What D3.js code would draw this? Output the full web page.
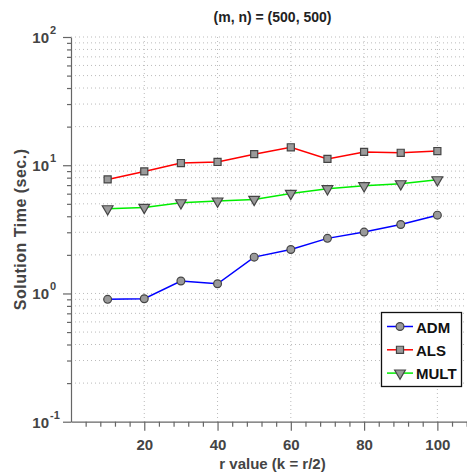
<!DOCTYPE html>
<html>
<head>
<meta charset="utf-8">
<script src="https://cdn.jsdelivr.net/npm/d3@7"></script>
<style>
  body { margin: 0; background: #fff; }
  svg { display: block; font-family: "Liberation Sans", Arial, sans-serif; }
</style>
</head>
<body>
<div id="chart"></div>
<script>
// values
const rValues = [10, 20, 30, 40, 50, 60, 70, 80, 90, 100];
const admTimes = [0.90, 0.91, 1.25, 1.19, 1.92, 2.20, 2.69, 3.01, 3.45, 4.08];
const alsTimes = [7.75, 8.95, 10.4, 10.6, 12.2, 13.8, 11.2, 12.7, 12.5, 12.9];
const multTimes = [4.57, 4.69, 5.09, 5.25, 5.41, 6.03, 6.55, 6.91, 7.16, 7.69];
const xTicks = [20, 40, 60, 80, 100];
const yDecades = [-1, 0, 1, 2];
const seriesNames = ['ADM', 'ALS', 'MULT'];

const width = 467;
const height = 476;

const x = d3.scaleLinear().domain([0, 110]).range([71, 474]);
const y = d3.scaleLog().domain([0.1, 100]).range([421.7, 37]);

const svg = d3
  .select('#chart')
  .append('svg')
  .attr('width', width)
  .attr('height', height);

// dotted grid: every log step on y, major ticks on x
const yGrid = [];
[0.1, 1, 10].forEach((d) => {
  for (let k = 1; k <= 9; k++) yGrid.push(d * k);
});
yGrid.push(100);

const grid = svg.append('g').attr('stroke', '#bbb').attr('stroke-dasharray', '1,3');
grid
  .selectAll('.hgrid')
  .data(yGrid.filter((d) => d > 0.1))
  .join('line')
  .attr('x1', x(0))
  .attr('x2', width)
  .attr('y1', (d) => y(d))
  .attr('y2', (d) => y(d));
grid
  .selectAll('.vgrid')
  .data(xTicks)
  .join('line')
  .attr('x1', (d) => x(d))
  .attr('x2', (d) => x(d))
  .attr('y1', y(100))
  .attr('y2', y(0.1));

// axes
const axisColor = '#666';
const xMinor = d3.range(0, 112, 4).filter((d) => d % 20 !== 0);

const xAxis = svg
  .append('g')
  .attr('transform', `translate(0,${y(0.1)})`)
  .call(d3.axisBottom(x).tickValues(xTicks).tickSize(9).tickSizeOuter(0).tickPadding(9));
svg
  .append('g')
  .attr('transform', `translate(0,${y(0.1)})`)
  .call(d3.axisBottom(x).tickValues(xMinor).tickSize(5).tickFormat('').tickSizeOuter(0))
  .select('.domain')
  .remove();

const yMinor = yGrid.filter((d) => !yDecades.some((p) => Math.abs(Math.pow(10, p) - d) < 1e-9));
const yAxis = svg
  .append('g')
  .attr('transform', `translate(${x(0)},0)`)
  .call(
    d3
      .axisLeft(y)
      .tickValues(yDecades.map((p) => Math.pow(10, p)))
      .tickSize(8)
      .tickSizeOuter(0)
      .tickFormat(''),
  );
svg
  .append('g')
  .attr('transform', `translate(${x(0)},0)`)
  .call(d3.axisLeft(y).tickValues(yMinor).tickSize(4).tickFormat(''))
  .select('.domain')
  .remove();

svg.selectAll('.domain, .tick line').attr('stroke', axisColor).attr('stroke-width', 1.2);

xAxis
  .selectAll('.tick text')
  .attr('font-size', 15)
  .attr('font-weight', 'bold')
  .attr('fill', '#444');

// log labels with superscript
const yLab = svg.append('g').attr('fill', '#444').attr('font-weight', 'bold');
yDecades.forEach((p) => {
  yLab
    .append('text')
    .attr('x', 49)
    .attr('y', y(Math.pow(10, p)) + 6)
    .attr('text-anchor', 'end')
    .attr('font-size', 15)
    .text('10');
  yLab
    .append('text')
    .attr('x', 50)
    .attr('y', y(Math.pow(10, p)) - 3)
    .attr('font-size', 11)
    .text(p);
});

// title and axis labels
svg
  .append('text')
  .attr('x', (x(0) + x(110)) / 2)
  .attr('y', 22)
  .attr('text-anchor', 'middle')
  .attr('font-size', 14)
  .attr('font-weight', 'bold')
  .attr('fill', '#222')
  .text('(m, n) = (500, 500)');

svg
  .append('text')
  .attr('x', (x(0) + x(110)) / 2)
  .attr('y', 469)
  .attr('text-anchor', 'middle')
  .attr('font-size', 15)
  .attr('font-weight', 'bold')
  .attr('fill', '#444')
  .text('r value (k = r/2)');

svg
  .append('text')
  .attr('transform', `translate(26,${(y(0.1) + y(100)) / 2}) rotate(-90)`)
  .attr('text-anchor', 'middle')
  .attr('font-size', 16)
  .attr('letter-spacing', 0.5)
  .attr('font-weight', 'bold')
  .attr('fill', '#444')
  .text('Solution Time (sec.)');

// series
const series = [
  { name: seriesNames[0], values: admTimes, color: '#0000ff', symbol: d3.symbolCircle, size: 48 },
  { name: seriesNames[1], values: alsTimes, color: '#ff0000', symbol: d3.symbolSquare, size: 50 },
  { name: seriesNames[2], values: multTimes, color: '#00ee00', symbol: d3.symbolTriangle, size: 50 },
];

const line = d3
  .line()
  .x((d) => x(d[0]))
  .y((d) => y(d[1]));

const markerFill = '#9a9a9a';
const markerStroke = '#444';

const drawMarker = (g, s, cx, cy) => {
  const rot = s.symbol === d3.symbolTriangle ? ' rotate(180)' : '';
  g.append('path')
    .attr('d', d3.symbol().type(s.symbol).size(s.size)())
    .attr('transform', `translate(${cx},${cy})${rot}`)
    .attr('fill', markerFill)
    .attr('stroke', markerStroke)
    .attr('stroke-width', 1.2);
};

series.forEach((s) => {
  const pts = rValues.map((r, i) => [r, s.values[i]]);
  svg
    .append('path')
    .datum(pts)
    .attr('fill', 'none')
    .attr('stroke', s.color)
    .attr('stroke-width', 1.5)
    .attr('d', line);
  const g = svg.append('g');
  pts.forEach((p) => drawMarker(g, s, x(p[0]), y(p[1])));
});

// legend
const legend = svg.append('g');
legend
  .append('rect')
  .attr('x', 381.5)
  .attr('y', 312.5)
  .attr('width', 80)
  .attr('height', 74)
  .attr('fill', '#fff')
  .attr('stroke', '#111')
  .attr('stroke-width', 1.3);
series.forEach((s, i) => {
  const ly = 326.5 + i * 23.3;
  legend
    .append('line')
    .attr('x1', 387)
    .attr('x2', 413)
    .attr('y1', ly)
    .attr('y2', ly)
    .attr('stroke', s.color)
    .attr('stroke-width', 1.5);
  drawMarker(legend, s, 400, ly);
  legend
    .append('text')
    .attr('x', 416)
    .attr('y', ly + 6)
    .attr('font-size', 15)
    .attr('font-weight', 'bold')
    .attr('fill', '#111')
    .text(s.name);
});
</script>
</body>
</html>
